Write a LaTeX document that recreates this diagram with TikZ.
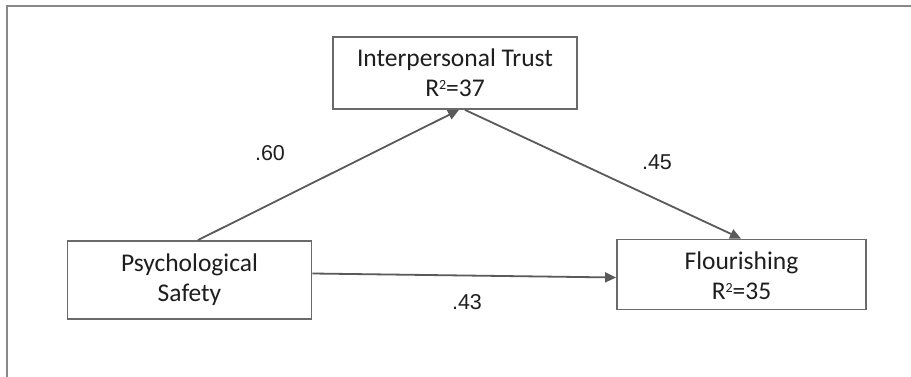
\documentclass[tikz,border=0pt]{standalone}
\usepackage{fontspec}
\setmainfont{Carlito}
\newfontfamily\labfont{Liberation Sans}
\usetikzlibrary{arrows.meta}
\definecolor{boxc}{HTML}{6A6A6A}
\definecolor{linec}{HTML}{5A5A5A}
\definecolor{framec}{HTML}{888888}
\definecolor{txtc}{HTML}{1E1E1E}
\newcommand{\rsq}{R\raisebox{0.62ex}{\fontsize{14}{14}\selectfont 2}}
\begin{document}
\begin{tikzpicture}[x=1pt,y=-1pt,
  varbox/.style={draw=boxc,line width=1.8pt,fill=white,rectangle,inner sep=0pt,
    align=center,text=txtc,font=\fontsize{25.5}{30}\selectfont},
  coef/.style={text=txtc,font=\labfont\fontsize{21.5}{24}\selectfont,inner sep=0pt},
  path/.style={draw=linec,line width=1.8pt,-{Triangle[length=11pt,width=10pt]}}]
\useasboundingbox (0,0) rectangle (911,377);
\fill[white] (0,0) rectangle (911,377);
\draw[framec,line width=2pt] (6.5,380) -- (6.5,6.5) -- (915,6.5);
\node[varbox,minimum width=244pt,minimum height=72pt] (it) at (455,73)
  {Interpersonal Trust\\\rsq=37};
\node[varbox,minimum width=244pt,minimum height=78pt] (ps) at (189.5,280)
  {Psychological\\Safety};
\node[varbox,minimum width=249pt,minimum height=70pt] (fl) at (741.5,274.5)
  {\strut Flourishing\\\rsq=35};
\draw[path] ([xshift=8.5pt]ps.north) -- ([xshift=4pt]it.south);
\draw[path] ([xshift=10pt]it.south) -- ([xshift=-0.5pt]fl.north);
\draw[path] ([yshift=6.5pt]ps.east) -- ([yshift=-3pt]fl.west);
\node[coef] (c60) at (270,153) {.60};
\node[coef] (c45) at (657,162) {.45};
\node[coef] (c43) at (467,302) {.43};
\end{tikzpicture}
\end{document}
